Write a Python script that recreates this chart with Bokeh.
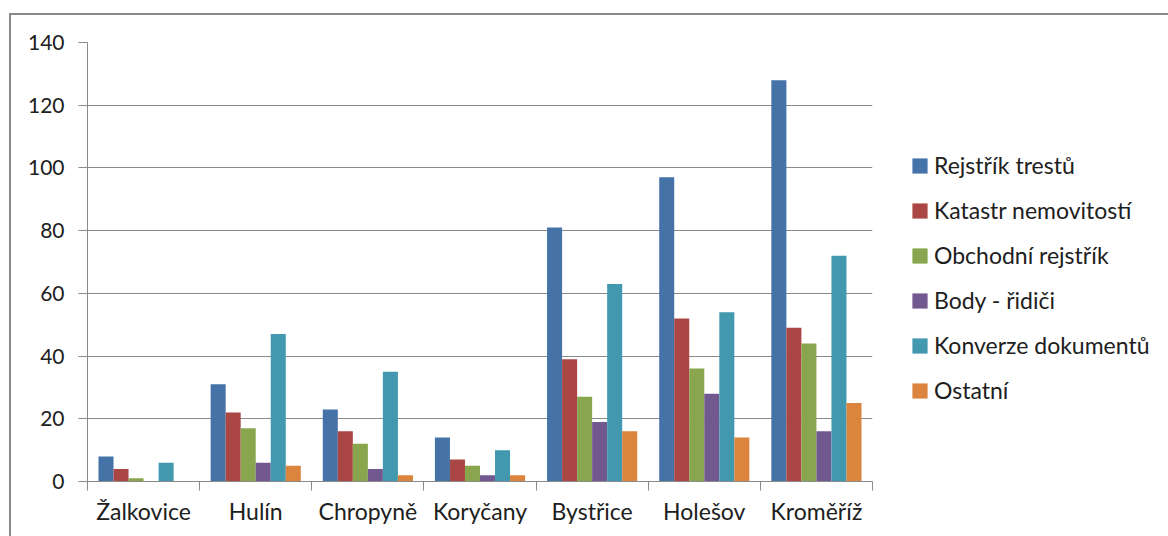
from bokeh.plotting import figure
from bokeh.models import Range1d, FixedTicker, Legend, LegendItem, InlineStyleSheet
from bokeh.embed import file_html
from bokeh.resources import INLINE

# Request counts per town and service
towns = ["Žalkovice", "Hulín", "Chropyně", "Koryčany", "Bystřice", "Holešov", "Kroměříž"]
series_names = ["Rejstřík trestů", "Katastr nemovitostí", "Obchodní rejstřík",
                "Body - řidiči", "Konverze dokumentů", "Ostatní"]
rejstrik_trestu = [8, 31, 23, 14, 81, 97, 128]
katastr_nemovitosti = [4, 22, 16, 7, 39, 52, 49]
obchodni_rejstrik = [1, 17, 12, 5, 27, 36, 44]
body_ridici = [0, 6, 4, 2, 19, 28, 16]
konverze_dokumentu = [6, 47, 35, 10, 63, 54, 72]
ostatni = [0, 5, 2, 2, 16, 14, 25]
y_ticks = [0, 20, 40, 60, 80, 100, 120, 140]

series_values = [rejstrik_trestu, katastr_nemovitosti, obchodni_rejstrik,
                 body_ridici, konverze_dokumentu, ostatni]
colors = ["#4572A7", "#AA4643", "#89A54E", "#71588F", "#4198AF", "#DB843D"]

FONT = "Lato"
TEXT = "#202020"
GRID = "#8a8a8a"

# thin frame around the whole chart area, drawn as an overlay on the host element
border_css = InlineStyleSheet(css="""
:host { position: relative; }
:host::after {
  content: "";
  position: absolute;
  left: 9px; top: 13px; width: 1400px; height: 900px;
  border-left: 2px solid #8a8a8a; border-top: 2px solid #8a8a8a;
  pointer-events: none;
}
""")

p = figure(width=1168, height=536, frame_width=785, frame_height=439,
           output_backend="svg", toolbar_location=None,
           x_range=Range1d(0, len(towns)), y_range=Range1d(0, 140),
           min_border_left=87, min_border_right=0, min_border_top=42,
           min_border_bottom=0, outline_line_color=None,
           stylesheets=[border_css])

bar_w = 0.134
centers = [i + 0.5 for i in range(len(towns))]
renderers = []
for j, (vals, col) in enumerate(zip(series_values, colors)):
    xs = [c + (j - 2.5) * bar_w for c in centers]
    r = p.vbar(x=xs, top=vals, width=bar_w, bottom=0, fill_color=col, line_color=None)
    renderers.append(r)

# y axis
p.yaxis.ticker = FixedTicker(ticks=y_ticks)
p.yaxis.major_tick_out = 9
p.yaxis.major_tick_in = 0
p.yaxis.minor_tick_line_color = None
p.yaxis.major_tick_line_color = GRID
p.yaxis.axis_line_color = GRID
p.yaxis.major_label_standoff = 14
p.yaxis.major_label_text_font = FONT
p.yaxis.major_label_text_font_size = "21px"
p.yaxis.major_label_text_color = TEXT

# x axis: labels at group centres, tick marks at group boundaries
p.xaxis.ticker = FixedTicker(ticks=centers, minor_ticks=list(range(len(towns) + 1)))
p.xaxis.major_label_overrides = {c: t for c, t in zip(centers, towns)}
p.xaxis.major_tick_out = 0
p.xaxis.major_tick_in = 0
p.xaxis.minor_tick_out = 9
p.xaxis.minor_tick_in = 0
p.xaxis.minor_tick_line_color = GRID
p.xaxis.axis_line_color = GRID
p.xaxis.major_label_standoff = 6
p.xaxis.major_label_text_font = FONT
p.xaxis.major_label_text_font_size = "23px"
p.xaxis.major_label_text_color = TEXT

p.xgrid.grid_line_color = None
p.ygrid.grid_line_color = GRID
p.ygrid.ticker = FixedTicker(ticks=y_ticks)

legend = Legend(items=[LegendItem(label=n, renderers=[r]) for n, r in zip(series_names, renderers)],
                location=(38, 77), orientation="vertical",
                glyph_width=19, glyph_height=19, label_standoff=5,
                label_height=25, spacing=17, padding=0, margin=0,
                border_line_color=None, background_fill_alpha=0,
                label_text_font=FONT, label_text_font_size="23px",
                label_text_color=TEXT)
p.add_layout(legend, "right")

open("out.html", "w").write(file_html(p, INLINE))
